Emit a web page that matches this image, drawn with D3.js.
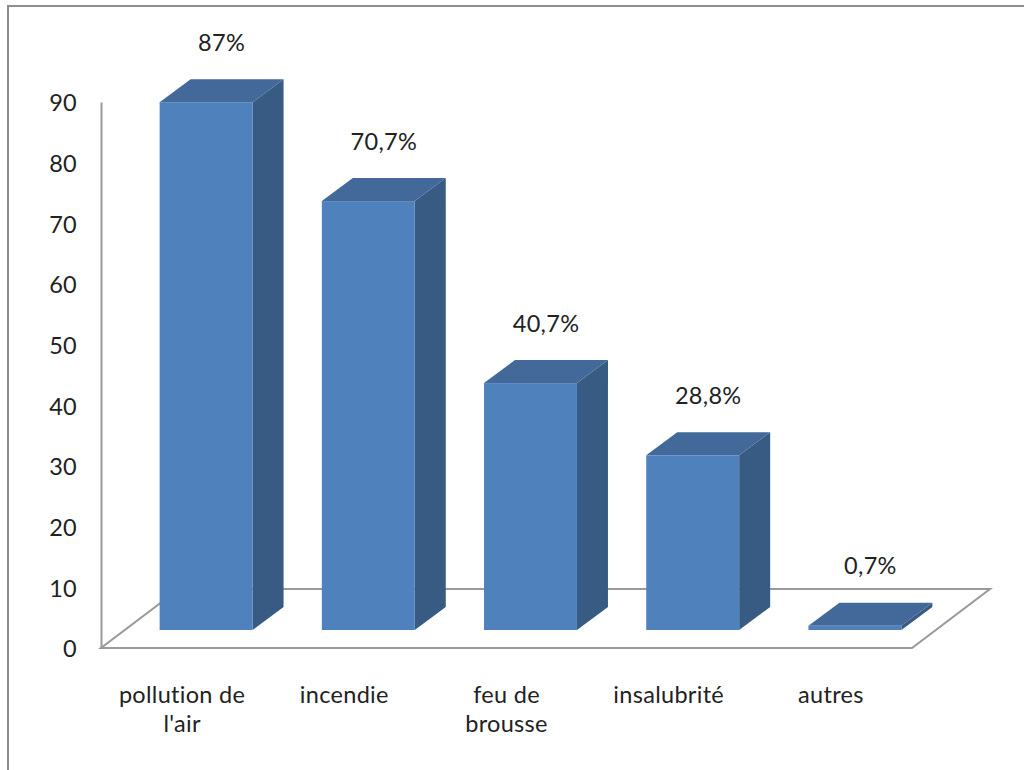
<!DOCTYPE html>
<html>
<head>
<meta charset="utf-8">
<script src="https://cdn.jsdelivr.net/npm/d3@7"></script>
<style>
  body { margin: 0; background: #fff; }
  svg text { font-family: Lato, "Open Sans", sans-serif; fill: #222; letter-spacing: 0.3px; }
</style>
</head>
<body>
<div id="chartWrapper"></div>
<script>
//data
const categories = ["pollution de\nl'air", "incendie", "feu de\nbrousse", "insalubrité", "autres"];
const values = [87, 70.7, 40.7, 28.8, 0.7];
const valueLabels = ["87%", "70,7%", "40,7%", "28,8%", "0,7%"];
const yTicks = [0, 10, 20, 30, 40, 50, 60, 70, 80, 90];

//layout
const CONSTANTS = {
    WIDTH: 1024,
    HEIGHT: 770,
    PLOT_LEFT: 101,     //front-left corner of the floor
    PLOT_RIGHT: 912,    //front-right corner of the floor
    PLOT_BOTTOM: 648,   //front edge of the floor
    PLOT_TOP: 102,      //where 90 sits on the front plane
    FLOOR_DX: 78, FLOOR_DY: -59,   //depth of the floor
    BAR_DX: 24, BAR_DY: -18,       //bars sit this far back from the front plane
    DEPTH_DX: 31, DEPTH_DY: -23,   //depth of a bar
    FONT_SIZE: 23.5
};

const COLORS = {
    front: '#4F81BD',
    top: '#43699A',
    side: '#385B84',
    grid: '#999999',
    frame: '#8e8e8e'
};

const svg = d3.select('#chartWrapper')
    .append('svg')
    .attr('width', CONSTANTS.WIDTH)
    .attr('height', CONSTANTS.HEIGHT);

//frame round the chart area
svg.append('rect')
    .attr('x', 8).attr('y', 6)
    .attr('width', 1040).attr('height', 800)
    .attr('fill', 'none')
    .attr('stroke', COLORS.frame)
    .attr('stroke-width', 2);

//scales
const x = d3.scaleBand()
    .domain(categories)
    .range([CONSTANTS.PLOT_LEFT, CONSTANTS.PLOT_RIGHT])
    .paddingInner(0.427)
    .paddingOuter(0.2135);

const y = d3.scaleLinear()
    .domain([0, 90])
    .range([CONSTANTS.PLOT_BOTTOM, CONSTANTS.PLOT_TOP]);

//floor
const fl = CONSTANTS.PLOT_LEFT, fr = CONSTANTS.PLOT_RIGHT, fb = y(0);
svg.append('path')
    .attr('d', 'M' + fl + ',' + fb + 'L' + fr + ',' + fb +
        'L' + (fr + CONSTANTS.FLOOR_DX) + ',' + (fb + CONSTANTS.FLOOR_DY) +
        'L' + (fl + CONSTANTS.FLOOR_DX) + ',' + (fb + CONSTANTS.FLOOR_DY) + 'Z')
    .attr('fill', 'none')
    .attr('stroke', COLORS.grid)
    .attr('stroke-width', 2);

//y axis
const yAxis = d3.axisLeft(y)
    .tickValues(yTicks)
    .tickSize(0)
    .tickSizeOuter(0)
    .tickPadding(24);

const yAxisG = svg.append('g')
    .attr('id', 'y-axis')
    .attr('transform', 'translate(' + CONSTANTS.PLOT_LEFT + ',0)')
    .call(yAxis);

yAxisG.select('.domain')
    .attr('stroke', COLORS.grid)
    .attr('stroke-width', 2);

yAxisG.selectAll('text')
    .attr('font-size', CONSTANTS.FONT_SIZE)
    .attr('font-family', 'Lato')
    .attr('fill', '#222')
    .attr('dy', '0.38em');

//bars
const barData = categories.map((c, i) => ({ cat: c, value: values[i], label: valueLabels[i] }));
const bw = x.bandwidth();

function pts(arr) {
    return arr.map(p => p.join(',')).join(' ');
}

const bars = svg.selectAll('g.bar')
    .data(barData)
    .enter()
    .append('g')
    .attr('class', 'bar');

bars.each(function (d) {
    let g = d3.select(this);
    let x0 = x(d.cat) + CONSTANTS.BAR_DX;
    let x1 = x0 + bw;
    let yb = y(0) + CONSTANTS.BAR_DY;
    let yt = y(d.value) + CONSTANTS.BAR_DY;
    let dx = CONSTANTS.DEPTH_DX, dy = CONSTANTS.DEPTH_DY;

    g.append('polygon')
        .attr('points', pts([[x1, yt], [x1 + dx, yt + dy], [x1 + dx, yb + dy], [x1, yb]]))
        .attr('fill', COLORS.side);

    g.append('polygon')
        .attr('points', pts([[x0, yt], [x1, yt], [x1 + dx, yt + dy], [x0 + dx, yt + dy]]))
        .attr('fill', COLORS.top);

    g.append('rect')
        .attr('x', x0)
        .attr('y', yt)
        .attr('width', bw)
        .attr('height', Math.max(yb - yt, 0))
        .attr('fill', COLORS.front);

    //value label above the bar
    g.append('text')
        .attr('x', x0 + bw / 2 + dx / 2)
        .attr('y', yt + dy / 2 - 48)
        .attr('dy', '0.35em')
        .attr('text-anchor', 'middle')
        .attr('font-size', CONSTANTS.FONT_SIZE)
        .text(d.label);
});

//category labels
const catLabels = svg.selectAll('text.cat')
    .data(categories)
    .enter()
    .append('text')
    .attr('class', 'cat')
    .attr('text-anchor', 'middle')
    .attr('font-size', CONSTANTS.FONT_SIZE)
    .attr('x', d => x(d) + bw / 2)
    .attr('y', 703);

catLabels.each(function (d) {
    let t = d3.select(this);
    d.split('\n').forEach((line, i) => {
        t.append('tspan')
            .attr('x', x(d) + bw / 2)
            .attr('dy', i === 0 ? 0 : 29)
            .text(line);
    });
});
</script>
</body>
</html>
